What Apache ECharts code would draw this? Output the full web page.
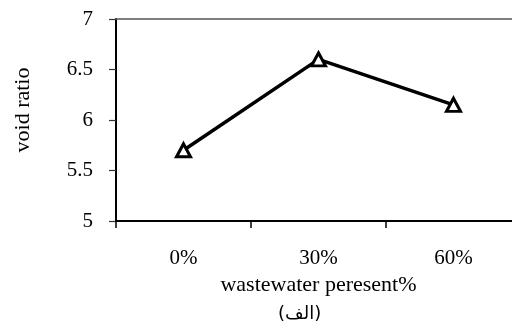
<!DOCTYPE html>
<html>
<head>
<meta charset="utf-8">
<script src="https://cdn.jsdelivr.net/npm/echarts@6/dist/echarts.min.js"></script>
<style>html,body{margin:0;padding:0;background:#fff}#c{width:512px;height:328px}</style>
</head>
<body>
<div id="c"></div>
<script>
const categories = ['0%', '30%', '60%'];
const voidRatio = [5.7, 6.6, 6.15];
const yTicks = { min: 5, max: 7, interval: 0.5 };
const xName = 'wastewater peresent%';
const yName = 'void ratio';
const subLabel = '(الف)';

const chart = echarts.init(document.getElementById('c'), null, { renderer: 'canvas' });
const serif = '"Liberation Serif", "Times New Roman", serif';
chart.setOption({
  backgroundColor: '#fff',
  animation: false,
  grid: { left: 116, top: 19, right: -9, height: 202, outerBoundsMode: 'none', containLabel: false },
  xAxis: [{
    type: 'category',
    data: categories,
    boundaryGap: true,
    position: 'bottom',
    axisLine: { lineStyle: { color: '#000', width: 2 } },
    axisTick: { show: true, length: 7, lineStyle: { color: '#000', width: 1.5 } },
    axisLabel: { color: '#000', fontFamily: serif, fontSize: 21, margin: 27 },
    name: xName,
    nameLocation: 'middle',
    nameGap: 52,
    nameTextStyle: { color: '#000', fontFamily: serif, fontSize: 22 },
    splitLine: { show: false }
  }, {
    type: 'category',
    data: categories,
    position: 'top',
    axisLine: { lineStyle: { color: '#555', width: 1.5 } },
    axisTick: { show: false },
    axisLabel: { show: false },
    splitLine: { show: false }
  }],
  yAxis: {
    type: 'value',
    min: yTicks.min, max: yTicks.max, interval: yTicks.interval,
    axisLine: { show: true, lineStyle: { color: '#000', width: 2 } },
    axisTick: { show: true, length: 7, lineStyle: { color: '#333', width: 1.2 } },
    axisLabel: { color: '#000', fontFamily: serif, fontSize: 21, margin: 23 },
    splitLine: { show: false },
    name: yName,
    nameLocation: 'middle',
    nameRotate: 90,
    nameGap: 82,
    nameTextStyle: { color: '#000', fontFamily: serif, fontSize: 22, padding: [0, 0, 0, 20] }
  },
  series: [{
    type: 'line',
    data: voidRatio,
    xAxisIndex: 0,
    lineStyle: { color: '#000', width: 3.5 },
    symbol: 'triangle',
    symbolSize: [14, 13],
    showAllSymbol: true,
    itemStyle: { color: '#fff', borderColor: '#000', borderWidth: 3 },
    z: 3
  }],
  graphic: [{
    type: 'text',
    left: 278,
    top: 305,
    style: { text: subLabel, fontSize: 18, fontFamily: '"DejaVu Sans", "Noto Sans", sans-serif', fill: '#000' }
  }]
});
</script>
</body>
</html>
